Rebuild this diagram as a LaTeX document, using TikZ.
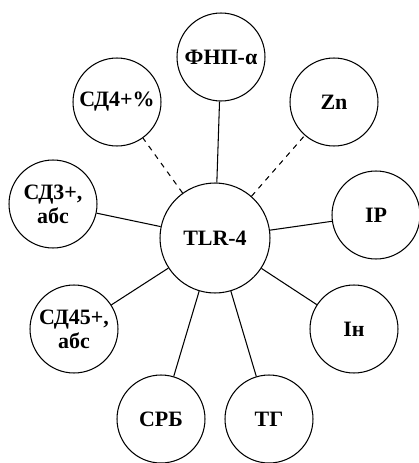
\documentclass[tikz,border=0pt]{standalone}
\usepackage{fontspec}
\setmainfont{Liberation Serif}
\usetikzlibrary{positioning}
\tikzset{
  hub/.style={circle,draw=black,line width=0.6pt,minimum size=2.2cm,inner sep=0pt,font=\bfseries\fontsize{12.5}{13}\selectfont},
  factor/.style={circle,draw=black,line width=0.6pt,minimum size=1.76cm,inner sep=0pt,align=center,font=\bfseries\fontsize{12.5}{13.5}\selectfont},
  link/.style={draw=black,line width=0.6pt},
  weaklink/.style={draw=black,line width=0.6pt,dashed}
}

\begin{document}
\begin{tikzpicture}[x=0.02cm,y=-0.02cm]
\path[use as bounding box] (0,0) rectangle (419,463);
\node[hub] (tlr) at (215,238) {TLR-4};
\foreach \x/\y/\nm/\txt in {
221/57/fnp/{ФНП-α},
117/102/cdfour/{СД4+\%},
334/102/zn/{Zn},
53/204/cdthree/{СД3+,\\абс},
376/215/ip/{IP},
354/329/inn/{Ін},
74/329/cdffive/{СД45+,\\абс},
161/419/crb/{СРБ},
269/419/tg/{ТГ}}
{
\node[factor] (\nm) at (\x,\y) {\txt};
}
\foreach \nm in {fnp,cdthree,ip,inn,cdffive,crb,tg}
  \draw[link] (tlr) -- (\nm);
\foreach \nm in {cdfour,zn}
  \draw[weaklink] (tlr) -- (\nm);
\end{tikzpicture}
\end{document}
